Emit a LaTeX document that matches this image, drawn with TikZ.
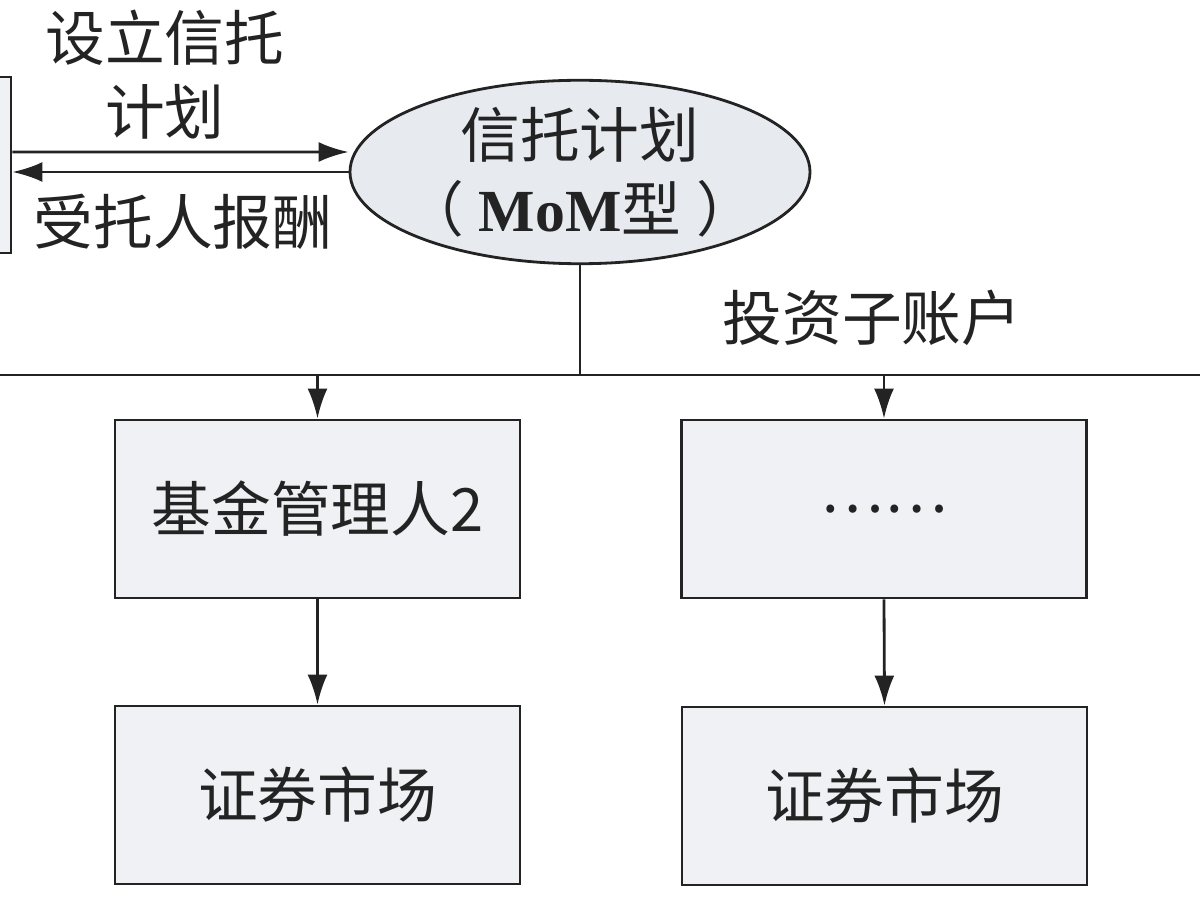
\documentclass[tikz,border=0pt]{standalone}
\usepackage{fontspec}
\newfontfamily\cjk{Noto Sans CJK SC}
\newfontfamily\romanfont{Liberation Serif}
\usetikzlibrary{shapes,arrows.meta,positioning,calc}
\definecolor{boxGray}{RGB}{239,241,244}
\definecolor{planGray}{RGB}{231,235,240}
\definecolor{lineBlack}{RGB}{35,35,35}

\begin{document}
\begin{tikzpicture}[
    box/.style={draw=lineBlack,fill=boxGray,line width=0.8pt,minimum width=4.05cm,
                minimum height=1.78cm,font=\cjk\fontsize{17}{21}\selectfont,text=lineBlack},
    tag/.style={font=\cjk\fontsize{17}{21}\selectfont,text=lineBlack,align=center},
    arr/.style={draw=lineBlack,line width=0.8pt,-{Latex[length=3mm,width=2mm]}},
    wire/.style={draw=lineBlack,line width=0.8pt}
  ]
    \useasboundingbox (0,0) rectangle (12,9);
    \clip (0,0) rectangle (12,9);

    % top: client and trust plan
    \node[box,minimum width=2cm,minimum height=1.76cm] (client) at (-0.89,7.35) {};
    \node[ellipse,draw=lineBlack,fill=planGray,line width=0.8pt,minimum width=4.6cm,
          minimum height=1.66cm,inner xsep=-0.6cm,inner ysep=0pt,tag] (plan) at (5.80,7.28)
          {信托计划\\（\hspace{0.25em}{\romanfont\bfseries MoM}型\hspace{0.25em}）};

    \draw[arr] ([yshift=1.3mm]client.east) -- ([yshift=2mm]plan.west);
    \draw[arr] (plan.west) -- (client.east |- plan.west);
    \node[tag] (setup) at (1.65,8.25) {设立信托\\计划};
    \node[tag] (fee) at (1.83,6.78) {受托人报酬};

    % sub-accounts bus
    \coordinate (busL) at (0,5.25);
    \coordinate (busR) at (12,5.25);
    \draw[wire] (busL) -- (busR);
    \draw[wire] (plan.south) -- (plan.south |- busL);
    \node[tag] (acct) at (8.72,5.82) {投资子账户};

    % managers and markets
    \node[box] (mgr2) at (3.175,3.91) {基金管理人2};
    \node[box] (mgrN) at (8.84,3.91) {……};
    \node[box] (mkt1) at (3.175,1.05) {证券市场};
    \node[box] (mkt2) at (8.845,1.04) {证券市场};

    \draw[arr] (mgr2.north |- busL) -- (mgr2.north);
    \draw[arr] (mgrN.north |- busL) -- (mgrN.north);
    \draw[arr] (mgr2.south) -- (mkt1.north);
    \draw[arr] (mgrN.south) -- (mkt2.north);
\end{tikzpicture}
\end{document}
